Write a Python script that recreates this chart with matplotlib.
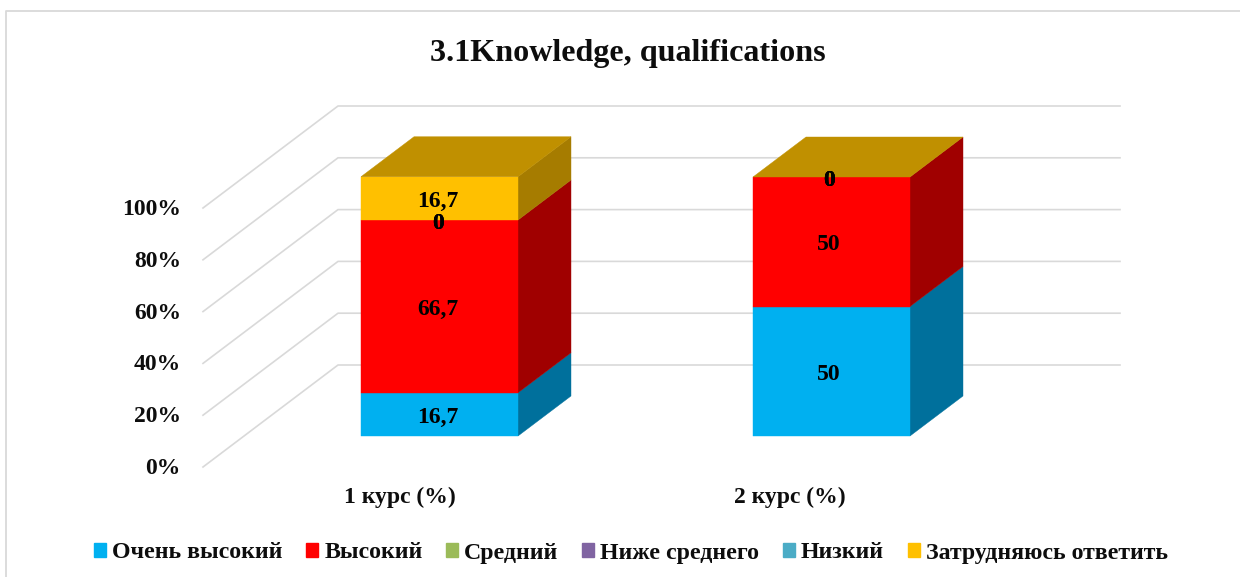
import matplotlib
matplotlib.use("Agg")
import matplotlib.pyplot as plt
from matplotlib.patches import Patch, Polygon

plt.rcParams['font.family'] = ['Liberation Serif', 'DejaVu Serif']
plt.rcParams['font.weight'] = 'bold'

categories = ['1 курс (%)', '2 курс (%)']
series_names = ['Очень высокий', 'Высокий', 'Средний', 'Ниже среднего', 'Низкий', 'Затрудняюсь ответить']
series_values = [
    [16.7, 50],
    [66.7, 50],
    [0, 0],
    [0, 0],
    [0, 0],
    [16.7, 0],
]
value_labels = [
    ['16,7', '50'],
    ['66,7', '50'],
    ['0', '0'],
    ['0', '0'],
    ['0', '0'],
    ['16,7', ''],
]
y_ticks = [0, 20, 40, 60, 80, 100]
y_tick_labels = ['0%', '20%', '40%', '60%', '80%', '100%']

colors = ['#00B0F0', '#FF0000', '#9BBB59', '#8064A2', '#4BACC6', '#FFC000']
side_colors = ['#00709C', '#A00000', '#637A38', '#514067', '#2F6E80', '#A67C00']
top_color = '#C09000'
grid_color = '#D9D9D9'

# the 3d box is faked, values are turned into picture pixels here
px_per_pct = 2.59
wall_front_x, wall_back_x, wall_x_end = 203, 338, 1120
wall_front_y, wall_back_y = 467, 365
bar_left = [361, 753]
bar_width = 157
bar_base = 436
depth_x, depth_y = 53, -40
label_x = [438, 829]
cat_x = [400, 790]

fig = plt.figure(figsize=(12.4, 5.77), dpi=100)
ax = fig.add_axes([0, 0, 1, 1])
ax.set_xlim(0, 1240)
ax.set_ylim(577, 0)
ax.axis('off')

# outer frame, only left and top show in the crop
ax.plot([5.5, 5.5, 1240], [577, 11, 11], color=grid_color, lw=1.3)

for t, lab in zip(y_ticks, y_tick_labels):
    dy = t * px_per_pct
    ax.plot([wall_front_x, wall_back_x, wall_x_end],
            [wall_front_y - dy, wall_back_y - dy, wall_back_y - dy],
            color=grid_color, lw=1.2, zorder=1)
    ax.text(181, wall_front_y - dy + 1.5, lab, ha='right', va='center', fontsize=17, color='#0D0D0D')

for i in range(len(categories)):
    x0 = bar_left[i]
    x1 = x0 + bar_width
    bottom = 0
    for s in range(len(series_names)):
        v = series_values[s][i]
        y0 = bar_base - bottom * px_per_pct
        y1 = bar_base - (bottom + v) * px_per_pct
        if v > 0:
            ax.add_patch(Polygon([(x1, y0), (x1 + depth_x, y0 + depth_y), (x1 + depth_x, y1 + depth_y), (x1, y1)],
                                 fc=side_colors[s], ec=side_colors[s], lw=0.3, zorder=2))
            ax.add_patch(Polygon([(x0, y0), (x1, y0), (x1, y1), (x0, y1)],
                                 fc=colors[s], ec=colors[s], lw=0.3, zorder=3))
        bottom += v
    top_y = bar_base - bottom * px_per_pct
    ax.add_patch(Polygon([(x0, top_y), (x1, top_y), (x1 + depth_x, top_y + depth_y), (x0 + depth_x, top_y + depth_y)],
                         fc=top_color, ec=top_color, lw=0.3, zorder=3))

    bottom = 0
    for s in range(len(series_names)):
        v = series_values[s][i]
        lab = value_labels[s][i]
        if lab:
            off = 4 if v == 0 else 3
            ax.text(label_x[i], bar_base - (bottom + v / 2) * px_per_pct + off, lab,
                    ha='center', va='center', fontsize=17, color='black', zorder=5)
        bottom += v
    if series_values[5][i] == 0:
        ax.text(label_x[i], top_y + 4, '0', ha='center', va='center', fontsize=17, color='black', zorder=5)

    ax.text(cat_x[i], 497, categories[i], ha='center', va='center', fontsize=17, color='#0D0D0D')

ax.text(628, 54, '3.1Knowledge, qualifications', ha='center', va='center', fontsize=23.1, color='#0D0D0D')

handles = [Patch(fc=c, ec=c) for c in colors]
ax.legend(handles, series_names, loc='center', bbox_to_anchor=(631 / 1240, 1 - 553 / 577), ncol=6,
          frameon=False, fontsize=17.2, handlelength=0.5, handleheight=0.5, handletextpad=0.25,
          columnspacing=1.0, labelcolor='#0D0D0D', borderpad=0, borderaxespad=0)

fig.savefig('out.png', dpi=100)
